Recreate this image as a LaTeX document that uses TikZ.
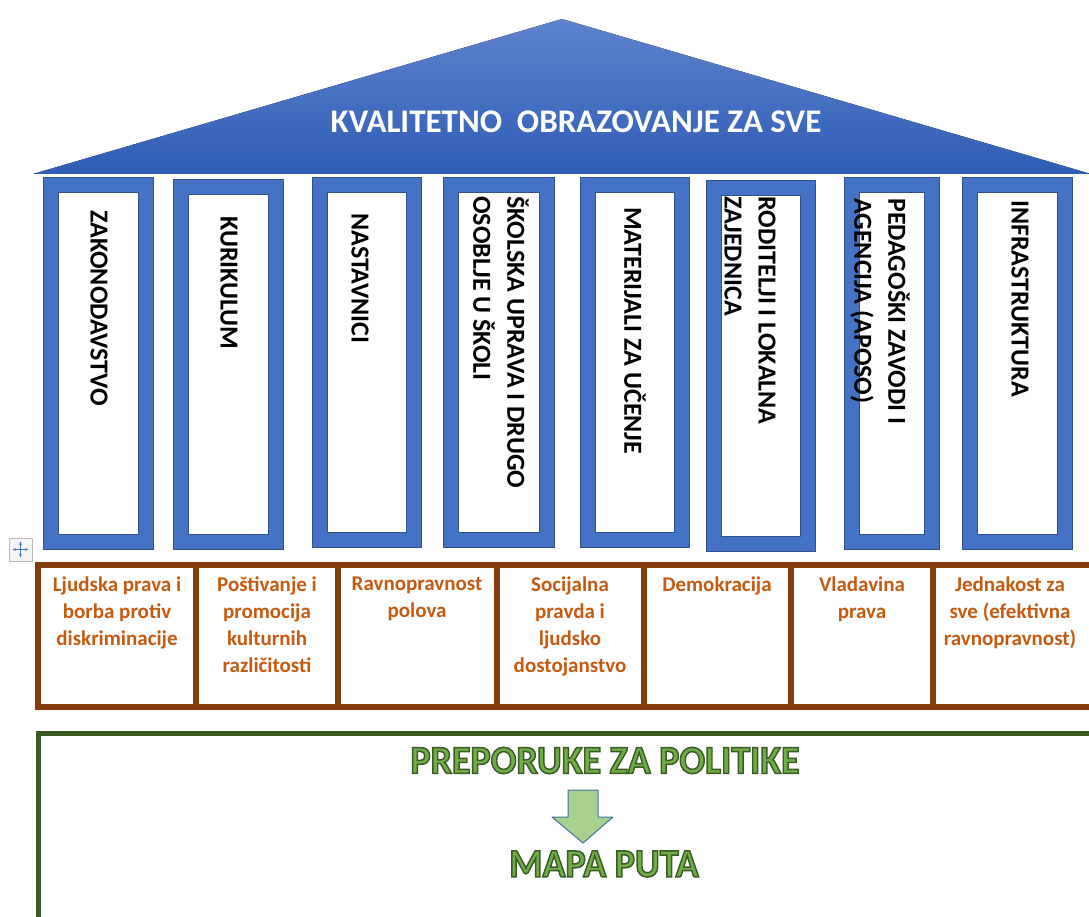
\documentclass[tikz,border=0pt]{standalone}
\usepackage{fontspec}
\setmainfont{Carlito}
\usetikzlibrary{arrows.meta}

\definecolor{pillarblue}{HTML}{4472C4}
\definecolor{pillaredge}{HTML}{2F528F}
\definecolor{rooftop}{HTML}{5E83CE}
\definecolor{roofbottom}{HTML}{2E5DB5}
\definecolor{brickbrown}{HTML}{843C0C}
\definecolor{valueorange}{HTML}{C55A11}
\definecolor{framegreen}{HTML}{3A5A26}
\definecolor{leafgreen}{HTML}{70AD47}
\definecolor{arrowgreen}{HTML}{A9D18E}
\definecolor{arrowedge}{HTML}{41719C}

% green letters with a dark green outline
\newcommand{\outlined}[1]{\textcolor{leafgreen}{%
  \special{pdf:literal direct 2 Tr 1.5 w 0.227 0.353 0.149 RG}#1%
  \special{pdf:literal direct 0 Tr}}}

\tikzset{
  pillar/.style={fill=pillarblue,draw=pillaredge,line width=0.8pt},
  pillarcore/.style={fill=white,draw=pillaredge,line width=0.8pt},
  pillartext/.style={rotate=-90,anchor=west,inner sep=0pt,align=left,
    font=\bfseries\fontsize{26}{34}\selectfont},
  valuetext/.style={anchor=north,inner sep=0pt,align=center,text=valueorange,
    font=\bfseries\fontsize{21}{27}\selectfont},
  brick/.style={draw=brickbrown,line width=5.5pt},
  frame/.style={draw=framegreen,line width=5pt},
  heading/.style={inner sep=0pt,xscale=0.95,font=\bfseries\fontsize{40}{40}\selectfont},
  blockarrow/.style={fill=arrowgreen,draw=arrowedge,line width=1pt,line join=round},
}

\begin{document}
\begin{tikzpicture}[x=1pt,y=-1pt]
  \path[use as bounding box] (0,0) rectangle (1089,917);
  \clip (0,0) rectangle (1089,917);

  % roof
  \fill[top color=rooftop,bottom color=roofbottom]
    (33,174) -- (562,19) -- (1091,174) -- cycle;
  \node[inner sep=0pt,text=white,font=\bfseries\fontsize{33}{33}\selectfont]
    (title) at (576,122) {KVALITETNO\ \ OBRAZOVANJE ZA SVE};

  % pillars: left/top/right/bottom
  \foreach \l/\t/\r/\b in {43/177/153/549, 173/179/283/549, 312/177/421/547,
      443/177/554/547, 580/177/689/547, 706/180/815/551, 844/177/939/549,
      962/177/1072/549}
  {
    \draw[pillar] (\l,\t) rectangle (\r,\b);
    \draw[pillarcore] (\l+15,\t+15) rectangle (\r-15,\b-15);
  }

  \node[pillartext] (law) at (99,210) {ZAKONODAVSTVO};
  \node[pillartext] (curriculum) at (229,216) {KURIKULUM};
  \node[pillartext] (teachers) at (360,213) {NASTAVNICI};
  \node[pillartext] (staff) at (501,196) {ŠKOLSKA UPRAVA I DRUGO\\OSOBLJE U ŠKOLI};
  \node[pillartext] (materials) at (635,207) {MATERIJALI ZA UČENJE};
  \node[pillartext] (parents) at (750,196) {RODITELJI I LOKALNA\\ZAJEDNICA};
  \node[pillartext] (agencies) at (880,198) {PEDAGOŠKI ZAVODI I\\AGENCIJA (APOSO)};
  \node[pillartext] (infra) at (1020,200) {INFRASTRUKTURA};

  % table handle
  \node[draw=gray!55,fill=gray!8,line width=0.8pt,minimum size=23pt,inner sep=0pt]
    (handle) at (20.5,549.5) {};
  \draw[pillarblue,line width=1.2pt,{Stealth[length=3.5pt]}-{Stealth[length=3.5pt]}]
    ([xshift=-8pt]handle.center) -- ([xshift=8pt]handle.center);
  \draw[pillarblue,line width=1.2pt,{Stealth[length=3.5pt]}-{Stealth[length=3.5pt]}]
    ([yshift=-8pt]handle.center) -- ([yshift=8pt]handle.center);

  % values table
  \draw[brick,line join=miter] (1095,565) -- (38,565) -- (38,707) -- (1095,707);
  \foreach \x in {196,338,497,644,791,933}
    \draw[brick] (\x,565) -- (\x,707);

  \node[valuetext] (rights) at (117,577) {Ljudska prava i\\borba protiv\\diskriminacije};
  \node[valuetext] (culture) at (267,577) {Poštivanje i\\promocija\\kulturnih\\različitosti};
  \node[valuetext] (gender) at (417,577) {Ravnopravnost\\polova};
  \node[valuetext] (justice) at (570,577) {Socijalna\\pravda i\\ljudsko\\dostojanstvo};
  \node[valuetext] (democracy) at (717,577) {Demokracija};
  \node[valuetext] (rule) at (862,577) {Vladavina\\prava};
  \node[valuetext] (equality) at (1010,577) {Jednakost za\\sve (efektivna\\ravnopravnost)};

  % recommendations frame
  \draw[frame,line join=miter] (1095,733) -- (38,733) -- (38,925);
  \node[heading] (policy) at (605,760.5) {\outlined{PREPORUKE ZA POLITIKE}};
  \node[heading] (roadmap) at (604,864) {\outlined{MAPA PUTA}};
  \draw[blockarrow] (568,790) -- (598,790) -- (598,817) -- (613,817)
    -- (583,843) -- (552,817) -- (568,817) -- cycle;
\end{tikzpicture}
\end{document}
